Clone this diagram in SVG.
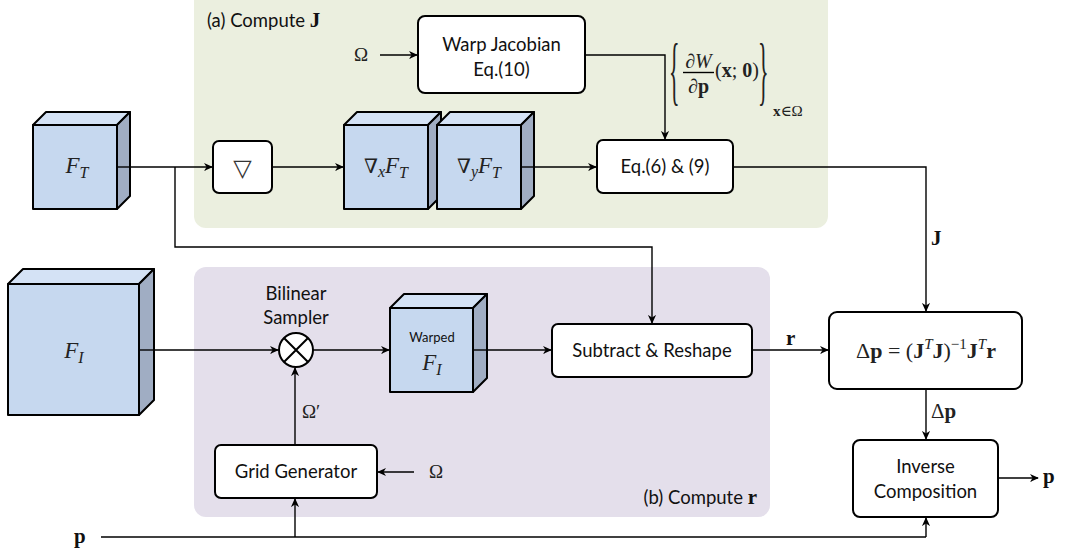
<svg xmlns="http://www.w3.org/2000/svg" width="1065" height="552" viewBox="0 0 1065 552">
<defs>
<marker id="ah" viewBox="0 0 10 10" refX="9" refY="5" markerWidth="9" markerHeight="9" markerUnits="userSpaceOnUse" orient="auto">
<path d="M0,0.5 L10,5 L0,9.5 L3,5 z" fill="#000"/>
</marker>
<style>
.box{fill:#fff;stroke:#000;stroke-width:2;}
.front{fill:#c6d8ef;stroke:#000;stroke-width:2;stroke-linejoin:round;}
.top{fill:#d4e2f5;stroke:#000;stroke-width:2;stroke-linejoin:round;}
.side{fill:#a0adc3;stroke:#000;stroke-width:2;stroke-linejoin:round;}
.ln{fill:none;stroke:#000;stroke-width:1.4;}
.arr{fill:none;stroke:#000;stroke-width:1.4;marker-end:url(#ah);}
.sans{font-family:Lato,"Open Sans","Liberation Sans",sans-serif;font-size:18.5px;fill:#111;}
.mi{font-family:"Liberation Serif","DejaVu Serif",serif;font-style:italic;font-size:23px;fill:#222;}
.mr{font-family:"Liberation Serif","DejaVu Serif",serif;font-size:19px;fill:#222;}
.mb{font-family:"Liberation Serif","DejaVu Serif",serif;font-weight:bold;font-size:21px;fill:#111;}
.sub{font-size:16px;}
.sup{font-size:15px;}
</style>
</defs>
<rect id="panelA" x="194" y="-12" width="634" height="240" rx="12" fill="#ebefdf"/>
<rect id="panelB" x="194" y="267" width="576" height="250" rx="12" fill="#e4dfeb"/>
<text class="sans" x="207" y="27">(a) Compute <tspan class="mb">J</tspan></text>
<text class="sans" x="757" y="504" text-anchor="end">(b) Compute <tspan class="mb">r</tspan></text>
<g id="connectors">
<path class="arr" d="M117,167 H212"/>
<path class="arr" d="M175,167 V247 H652 V323"/>
<path class="arr" d="M272,167 H343"/>
<path class="arr" d="M521,167 H596"/>
<path class="arr" d="M380,55 H417"/>
<path class="arr" d="M585,55 H665 V139"/>
<path class="arr" d="M733,167 H926 V311"/>
<path class="arr" d="M139,350 H278"/>
<path class="arr" d="M313,350 H389"/>
<path class="arr" d="M473,350 H551"/>
<path class="arr" d="M752,350 H828"/>
<path class="arr" d="M295,445 V368"/>
<path class="arr" d="M414,472 H378"/>
<path class="ln" d="M101,537 H926"/>
<path class="arr" d="M295,537 V499"/>
<path class="arr" d="M926,537 V518"/>
<path class="arr" d="M926,389 V439"/>
<path class="arr" d="M998,478 H1038"/>
</g>
<g id="FT">
<polygon class="top" points="33,125 46,112 130,112 117,125"/>
<polygon class="side" points="117,125 130,112 130,196 117,209"/>
<rect class="front" x="33" y="125" width="84" height="84"/>
<path class="ln" d="M117,167 H130"/>
<text class="mi" x="77" y="173" text-anchor="middle">F<tspan class="sub" dy="5">T</tspan></text>
</g>
<g id="grad">
<rect class="box" x="213" y="141" width="59" height="52" rx="6"/>
<text x="242.5" y="176" text-anchor="middle" style="font-family:'DejaVu Sans',sans-serif;font-size:24px;fill:#333;">▽</text>
</g>
<g id="gradxFT">
<polygon class="top" points="344,125 357,112 441,112 428,125"/>
<polygon class="side" points="428,125 441,112 441,196 428,209"/>
<rect class="front" x="344" y="125" width="84" height="84"/>
<text class="mi" x="386" y="173" text-anchor="middle"><tspan style="font-style:normal;font-size:20px">∇</tspan><tspan class="sub" dy="4">x</tspan><tspan dy="-4">F</tspan><tspan class="sub" dy="5">T</tspan></text>
</g>
<g id="gradyFT">
<polygon class="top" points="437,125 450,112 534,112 521,125"/>
<polygon class="side" points="521,125 534,112 534,196 521,209"/>
<rect class="front" x="437" y="125" width="84" height="84"/>
<path class="ln" d="M521,167 H534"/>
<text class="mi" x="479" y="173" text-anchor="middle"><tspan style="font-style:normal;font-size:20px">∇</tspan><tspan class="sub" dy="4">y</tspan><tspan dy="-4">F</tspan><tspan class="sub" dy="5">T</tspan></text>
</g>
<g id="omegaTop">
<text class="mr" x="361" y="61" text-anchor="middle">Ω</text>
</g>
<g id="warpJac">
<rect class="box" x="418" y="16" width="167" height="77" rx="7"/>
<text class="sans" x="501.5" y="51" text-anchor="middle">Warp Jacobian</text>
<text class="sans" x="501.5" y="76" text-anchor="middle">Eq.(10)</text>
</g>
<g id="jacLabel">
<text class="mr" transform="translate(669,95.5) scale(1,3.5)" style="font-size:22px">{</text>
<text class="mi" x="698.5" y="68" text-anchor="middle" style="font-size:20px">∂W</text>
<path class="ln" d="M683,72.5 H714" stroke-width="1"/>
<text class="mr" x="698.5" y="93" text-anchor="middle" style="font-size:20px"><tspan style="font-style:italic">∂</tspan><tspan style="font-weight:bold">p</tspan></text>
<text class="mr" x="715" y="77" style="font-size:20px">(<tspan style="font-weight:bold">x</tspan>; <tspan style="font-weight:bold">0</tspan>)</text>
<text class="mr" transform="translate(758,95.5) scale(1,3.5)" style="font-size:22px">}</text>
<text class="mr" x="773" y="116" style="font-size:15px"><tspan style="font-weight:bold">x</tspan>∈Ω</text>
</g>
<g id="eq69">
<rect class="box" x="597" y="140" width="136" height="53" rx="6"/>
<text class="sans" x="665" y="173" text-anchor="middle">Eq.(6) &amp; (9)</text>
</g>
<g id="FI">
<polygon class="top" points="8,284 23,269 154,269 139,284"/>
<polygon class="side" points="139,284 154,269 154,400 139,415"/>
<rect class="front" x="8" y="284" width="131" height="131"/>
<path class="ln" d="M139,350 H154"/>
<text class="mi" x="74" y="358" text-anchor="middle">F<tspan class="sub" dy="5">I</tspan></text>
</g>
<g id="sampler">
<text class="sans" x="296" y="300" text-anchor="middle">Bilinear</text>
<text class="sans" x="296" y="324" text-anchor="middle">Sampler</text>
<circle cx="296" cy="350" r="17" fill="#fff" stroke="#000" stroke-width="2"/>
<path d="M284,338 L308,362 M308,338 L284,362" stroke="#000" stroke-width="2"/>
</g>
<g id="omegaPrime">
<text class="mr" x="302" y="418">Ω′</text>
</g>
<g id="warpedFI">
<polygon class="top" points="390,308 404,294 487,294 473,308"/>
<polygon class="side" points="473,308 487,294 487,378 473,392"/>
<rect class="front" x="390" y="308" width="83" height="84"/>
<path class="ln" d="M473,350 H487"/>
<text class="sans" x="432" y="342" text-anchor="middle" style="font-size:13px">Warped</text>
<text class="mi" x="432" y="370" text-anchor="middle">F<tspan class="sub" dy="5">I</tspan></text>
</g>
<g id="subtract">
<rect class="box" x="552" y="324" width="200" height="53" rx="6"/>
<text class="sans" x="652" y="357" text-anchor="middle">Subtract &amp; Reshape</text>
</g>
<g id="gridGen">
<rect class="box" x="215" y="445" width="162" height="53" rx="6"/>
<text class="sans" x="296" y="478" text-anchor="middle">Grid Generator</text>
<text class="mr" x="436" y="478" text-anchor="middle">Ω</text>
</g>
<g id="labels">
<text class="mb" x="931" y="245">J</text>
<text class="mb" x="786" y="345">r</text>
<text class="mr" x="931" y="418" style="font-size:21px">Δ<tspan style="font-weight:bold">p</tspan></text>
<text class="mb" x="74" y="543">p</text>
<text class="mb" x="1043" y="483">p</text>
</g>
<g id="solve">
<rect class="box" x="829" y="312" width="193" height="77" rx="8"/>
<text class="mr" x="926" y="358" text-anchor="middle" style="font-size:22px">Δ<tspan style="font-weight:bold">p</tspan> = (<tspan style="font-weight:bold">J</tspan><tspan class="sup" dy="-9" style="font-style:italic">T</tspan><tspan dy="9" style="font-weight:bold">J</tspan>)<tspan class="sup" dy="-9">−1</tspan><tspan dy="9" style="font-weight:bold">J</tspan><tspan class="sup" dy="-9" style="font-style:italic">T</tspan><tspan dy="9" style="font-weight:bold">r</tspan></text>
</g>
<g id="invComp">
<rect class="box" x="853" y="440" width="145" height="77" rx="7"/>
<text class="sans" x="925.5" y="473" text-anchor="middle">Inverse</text>
<text class="sans" x="925.5" y="498" text-anchor="middle">Composition</text>
</g>
</svg>
